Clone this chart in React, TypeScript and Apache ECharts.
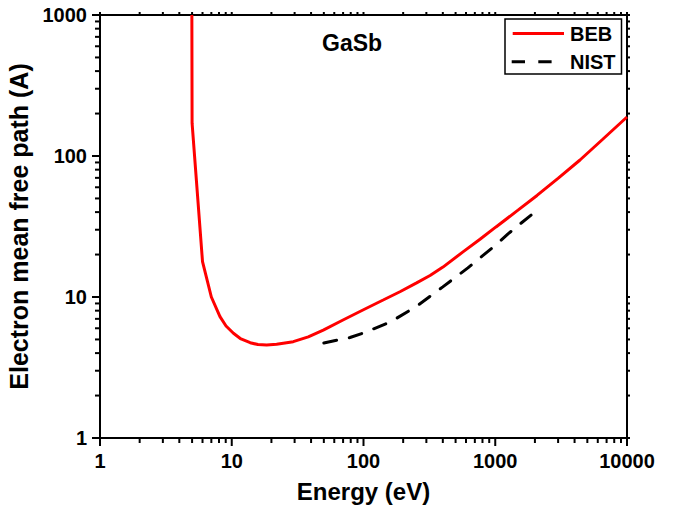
import React, { useEffect, useRef } from "react";
import * as echarts from "echarts";

// ---- Data ----
const BEB_ENERGY = [4.98, 5.0, 6.0, 7.0, 8.14, 9.05, 10.3, 11.75, 13.8, 15.8, 18.4, 21.9, 29.3, 38.1, 49.5, 69.9, 99, 141, 189, 253, 320, 401, 569, 766, 1013, 1488, 2075, 2995, 4398, 6575, 10000];
const BEB_MFP = [1000, 171, 17.8, 10.0, 7.25, 6.23, 5.53, 5.04, 4.74, 4.6, 4.57, 4.62, 4.82, 5.22, 5.83, 6.87, 8.09, 9.52, 10.9, 12.6, 14.2, 16.3, 20.9, 25.7, 31.4, 41.3, 52.5, 69.3, 93.7, 132, 189];

const NIST_ENERGY = [50, 79, 100, 160, 255, 400, 620, 795, 1000, 1250, 1540, 2040];
const NIST_MFP = [4.72, 5.16, 5.56, 6.65, 8.64, 11.8, 16.1, 19.5, 23.2, 28.0, 32.9, 40.7];

const X_DECADES = [1, 10, 100, 1000, 10000];
const Y_DECADES = [1, 10, 100, 1000];
const MINOR_MULTIPLIERS = [2, 3, 4, 5, 6, 7, 8, 9];

const X_MIN = 1;
const X_MAX = 10000;
const Y_MIN = 1;
const Y_MAX = 1000;

const FONT = "'Liberation Sans', Arial, Helvetica, sans-serif";

function buildTicks(decades: number[]) {
  const out: { v: number; major: boolean }[] = [];
  decades.forEach((d, i) => {
    out.push({ v: d, major: true });
    if (i < decades.length - 1) {
      MINOR_MULTIPLIERS.forEach((m) => out.push({ v: m * d, major: false }));
    }
  });
  return out;
}

export default function App() {
  const ref = useRef<HTMLDivElement>(null);

  useEffect(() => {
    document.body.style.margin = "0";
    if (!ref.current) return;
    const chart = echarts.init(ref.current, null, { renderer: "svg" });

    const labelStyle = {
      margin: 13,
      fontFamily: FONT,
      fontSize: 20,
      fontWeight: "bold",
      color: "#000",
      showMinLabel: true,
      showMaxLabel: true,
      formatter: (v: number) => String(v),
    };

    const legendGraphics: any[] = [
      {
        type: "rect",
        shape: { x: 505, y: 19, width: 116.5, height: 55 },
        style: { fill: "#fff", stroke: "#000", lineWidth: 1.5 },
        z: 10,
      },
      {
        type: "line",
        shape: { x1: 512.7, y1: 33.5, x2: 564, y2: 33.5 },
        style: { stroke: "#ff0000", lineWidth: 3 },
        z: 11,
      },
      {
        type: "text",
        x: 570,
        y: 34,
        style: { text: "BEB", fontFamily: FONT, fontSize: 20, fontWeight: "bold", fill: "#000", verticalAlign: "middle" },
        z: 11,
      },
      {
        type: "line",
        shape: { x1: 511.7, y1: 61.7, x2: 551.7, y2: 61.7 },
        style: { stroke: "#000", lineWidth: 3, lineDash: [13.3, 13.3] },
        z: 11,
      },
      {
        type: "text",
        x: 570,
        y: 62,
        style: { text: "NIST", fontFamily: FONT, fontSize: 20, fontWeight: "bold", fill: "#000", verticalAlign: "middle" },
        z: 11,
      },
    ];

    const option: any = {
      animation: false,
      backgroundColor: "#fff",
      title: {
        text: "GaSb",
        left: 322,
        top: 31,
        padding: 0,
        textStyle: { fontFamily: FONT, fontSize: 23, fontWeight: "bold", color: "#000" },
      },
      grid: {
        left: 100,
        top: 15,
        width: 527,
        height: 423,
        outerBoundsMode: "none",
        containLabel: false,
        show: true,
        borderColor: "#000",
        borderWidth: 2,
        backgroundColor: "transparent",
      },
      graphic: legendGraphics,
      xAxis: {
        type: "log",
        logBase: 10,
        min: X_MIN,
        max: X_MAX,
        name: "Energy (eV)",
        nameLocation: "middle",
        nameGap: 41,
        nameTextStyle: { fontFamily: FONT, fontSize: 24, fontWeight: "bold", color: "#000" },
        axisLine: { show: true, lineStyle: { color: "#000", width: 2 } },
        axisTick: { show: false },
        minorTick: { show: false },
        splitLine: { show: false },
        axisLabel: labelStyle,
      },
      yAxis: {
        type: "log",
        logBase: 10,
        min: Y_MIN,
        max: Y_MAX,
        name: "Electron mean free path (A)",
        nameLocation: "middle",
        nameGap: 63,
        nameTextStyle: { fontFamily: FONT, fontSize: 25, fontWeight: "bold", color: "#000" },
        axisLine: { show: true, lineStyle: { color: "#000", width: 2 } },
        axisTick: { show: false },
        minorTick: { show: false },
        splitLine: { show: false },
        axisLabel: labelStyle,
      },
      series: [
        {
          name: "NIST",
          type: "line",
          data: NIST_ENERGY.map((e, i) => [e, NIST_MFP[i]]),
          showSymbol: false,
          symbol: "none",
          lineStyle: { color: "#000", width: 3, type: [13, 13], cap: "round" },
          itemStyle: { color: "#000" },
          z: 3,
        },
        {
          name: "BEB",
          type: "line",
          data: BEB_ENERGY.map((e, i) => [e, BEB_MFP[i]]),
          showSymbol: false,
          symbol: "none",
          lineStyle: { color: "#ff0000", width: 3 },
          itemStyle: { color: "#ff0000" },
          z: 4,
        },
      ],
    };

    chart.setOption(option);

    // All axis ticks (log decades and 2..9 minors), placed through the chart's own log scales
    const toPx = (x: number, y: number): number[] =>
      chart.convertToPixel({ gridIndex: 0 }, [x, y]) as number[];
    const tick = (x1: number, y1: number, x2: number, y2: number) => ({
      type: "rect",
      silent: true,
      shape: {
        x: Math.min(x1, x2) - (x1 === x2 ? 1 : 0),
        y: Math.min(y1, y2) - (y1 === y2 ? 1 : 0),
        width: x1 === x2 ? 2 : Math.abs(x2 - x1),
        height: y1 === y2 ? 2 : Math.abs(y2 - y1),
      },
      style: { fill: "#000" },
      z: 20,
    });
    const tickGraphics: any[] = [];
    buildTicks(X_DECADES).forEach((t) => {
      const b = toPx(t.v, Y_MIN);
      const tp = toPx(t.v, Y_MAX);
      tickGraphics.push(tick(b[0], b[1], b[0], b[1] + (t.major ? 8 : 5)));
      tickGraphics.push(tick(tp[0], tp[1], tp[0], tp[1] - 3));
    });
    buildTicks(Y_DECADES).forEach((t) => {
      const l = toPx(X_MIN, t.v);
      const r = toPx(X_MAX, t.v);
      tickGraphics.push(tick(l[0], l[1], l[0] - (t.major ? 8 : 5), l[1]));
      tickGraphics.push(tick(r[0], r[1], r[0] + 3, r[1]));
    });

    chart.setOption({ graphic: [...legendGraphics, ...tickGraphics] });

    return () => {
      chart.dispose();
    };
  }, []);

  return <div ref={ref} style={{ width: 685, height: 510 }} />;
}
